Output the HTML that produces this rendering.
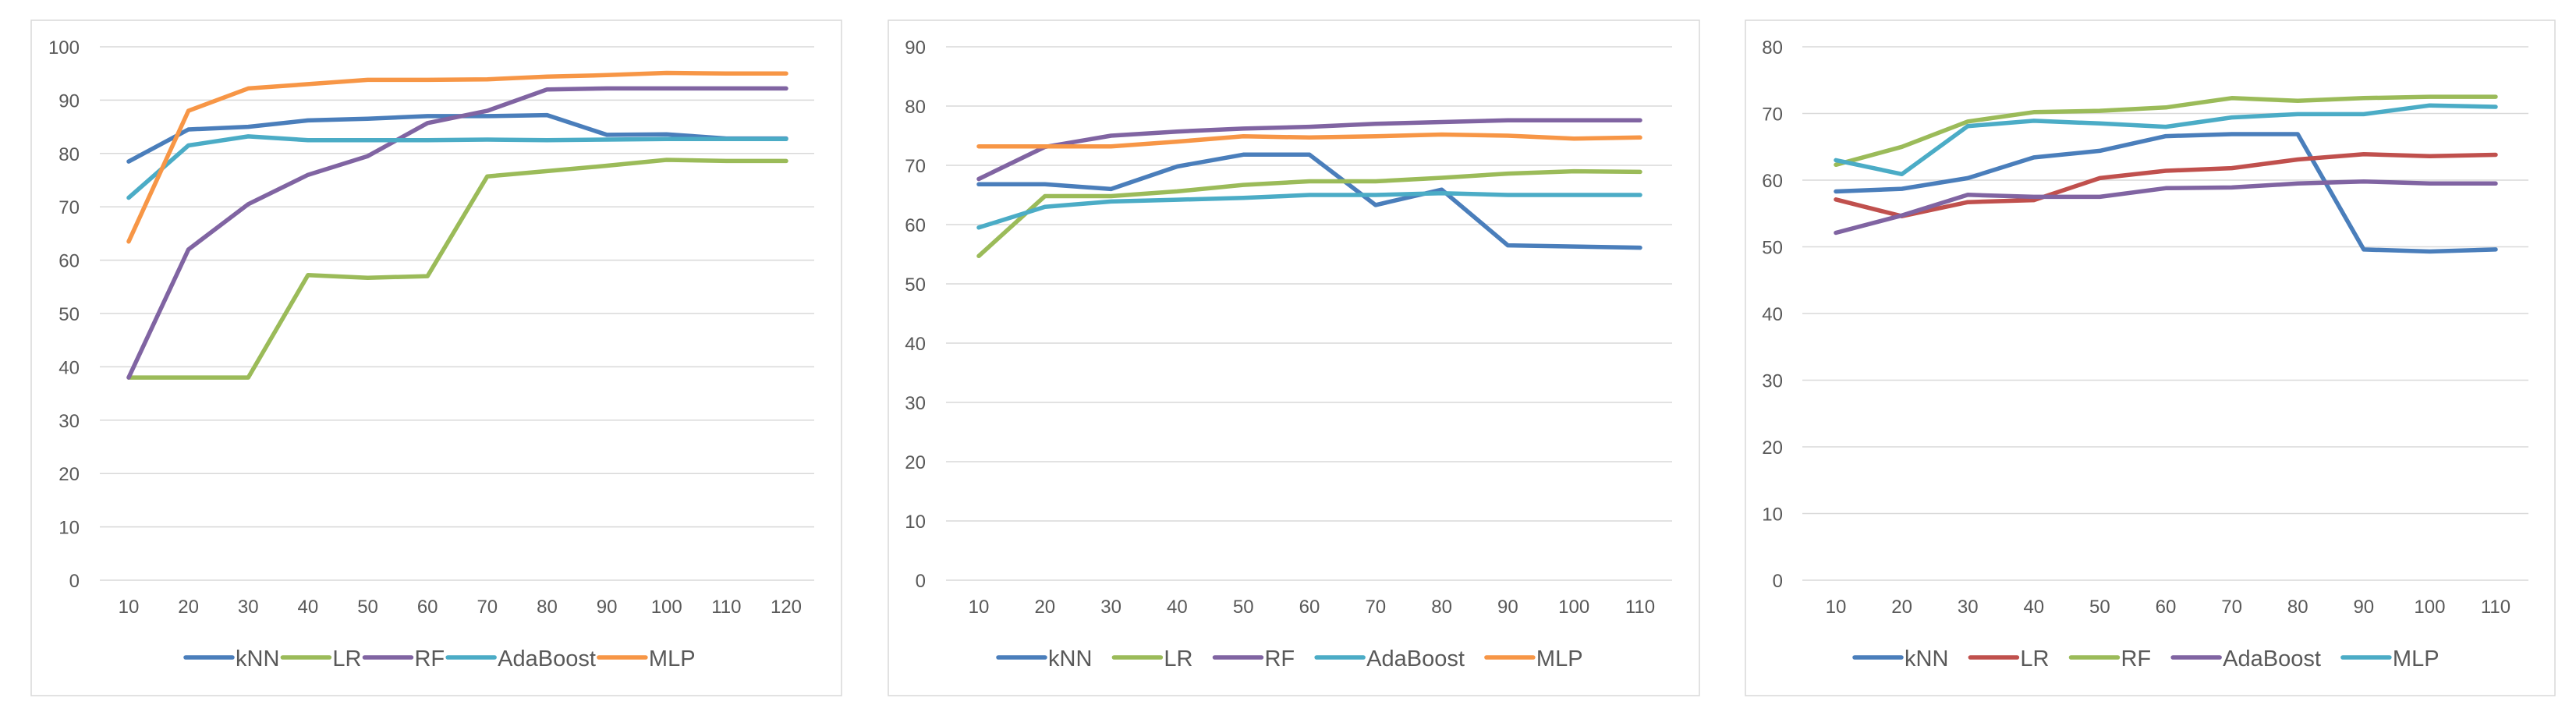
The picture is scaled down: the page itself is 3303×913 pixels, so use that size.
<!DOCTYPE html>
<html><head><meta charset="utf-8"><style>
html,body{margin:0;padding:0;background:#fff;}
svg{display:block;font-family:"Liberation Sans",sans-serif;}
</style></head><body>
<svg id="s" width="3303" height="913" viewBox="0 0 3303 913"></svg>
<script>
const xCats1 = [10,20,30,40,50,60,70,80,90,100,110,120];
const xCats2 = [10,20,30,40,50,60,70,80,90,100,110];
const xCats3 = [10,20,30,40,50,60,70,80,90,100,110];
const yTicks1 = [0,10,20,30,40,50,60,70,80,90,100];
const yTicks2 = [0,10,20,30,40,50,60,70,80,90];
const yTicks3 = [0,10,20,30,40,50,60,70,80];
const names1 = ["kNN","LR","RF","AdaBoost","MLP"];
const names3 = ["kNN","LR","RF","AdaBoost","MLP"];
const c1kNN = [78.5,84.5,85,86.2,86.5,87,87,87.2,83.5,83.6,82.8,82.8];
const c1LR = [38,38,38,57.2,56.7,57,75.7,76.7,77.7,78.8,78.6,78.6];
const c1RF = [38,62,70.5,76,79.5,85.7,88,92,92.2,92.2,92.2,92.2];
const c1Ada = [71.7,81.5,83.2,82.5,82.5,82.5,82.6,82.5,82.6,82.7,82.7,82.7];
const c1MLP = [63.5,88,92.2,93,93.8,93.8,93.9,94.4,94.7,95.1,95,95];
const c2kNN = [66.8,66.8,66,69.8,71.8,71.8,63.3,65.9,56.5,56.3,56.1];
const c2LR = [54.7,64.8,64.8,65.6,66.7,67.3,67.3,67.9,68.6,69,68.9];
const c2RF = [67.7,73.1,75,75.7,76.2,76.5,77,77.3,77.6,77.6,77.6];
const c2Ada = [59.5,63,63.9,64.2,64.5,65,65,65.3,65,65,65];
const c2MLP = [73.2,73.2,73.2,74,74.9,74.7,74.9,75.2,75,74.5,74.7];
const c3kNN = [58.3,58.7,60.3,63.4,64.4,66.6,66.9,66.9,49.6,49.3,49.6];
const c3LR = [57.1,54.6,56.7,57,60.3,61.4,61.8,63.1,63.9,63.6,63.8];
const c3RF = [62.3,65,68.8,70.2,70.4,70.9,72.3,71.9,72.3,72.5,72.5];
const c3Ada = [52.1,54.7,57.8,57.5,57.5,58.8,58.9,59.5,59.8,59.5,59.5];
const c3MLP = [63,60.9,68.1,68.9,68.5,68,69.4,69.9,69.9,71.2,71];

const NS="http://www.w3.org/2000/svg";
const svg=document.getElementById('s');
function mk(t,a,p){const e=document.createElementNS(NS,t);for(const k in a)e.setAttribute(k,a[k]);(p||svg).appendChild(e);return e;}
const B="#4A7EBB",G="#9BBB59",P="#8064A2",C="#4BACC6",O="#F79646",R="#C0504D";

function chart(cfg){
  const g=mk('g',{});
  
  
  const fr=mk('rect',{x:cfg.fx,y:26,width:cfg.fw,height:866,fill:'#fff',stroke:'#d9d9d9','stroke-width':1.5},g);
  
  
  const yTop=60,yBot=744,ymax=cfg.yt[cfg.yt.length-1];
  const ys=v=>yBot-(v/ymax)*(yBot-yTop);
  const n=cfg.cats.length;
  const xs=i=>cfg.x0+(cfg.x1-cfg.x0)*i/(n-1);
  cfg.yt.forEach(t=>{
    const l=mk('line',{x1:cfg.gx0,x2:cfg.gx1,y1:ys(t),y2:ys(t),stroke:'#d9d9d9','stroke-width':1.5},g);
    
    
    const tx=mk('text',{x:cfg.lx,y:ys(t)+9,'text-anchor':'end','font-size':24,fill:'#595959'},g);
    tx.textContent=t;
    
    
  });
  cfg.cats.forEach((c,i)=>{
    const tx=mk('text',{x:xs(i),y:786,'text-anchor':'middle','font-size':24,fill:'#595959'},g);
    tx.textContent=c;
    
    
  });
  cfg.series.forEach(s=>{
    const pts=s.d.map((v,i)=>xs(i).toFixed(1)+','+ys(v).toFixed(1)).join(' ');
    const pl=mk('polyline',{points:pts,fill:'none',stroke:s.c,'stroke-width':5.5,'stroke-linejoin':'round','stroke-linecap':'round'},g);
    
    
  });
  let x=cfg.legX;
  cfg.series.forEach(s=>{
    const lg=mk('g',{},g);
    
    
    mk('line',{x1:x,x2:x+60,y1:843,y2:843,stroke:s.c,'stroke-width':5.5,'stroke-linecap':'round'},lg);
    const tx=mk('text',{x:x+64,y:854,'font-size':29,fill:'#595959'},lg);
    tx.textContent=s.n;
    const w=tx.getComputedTextLength();
    x+=64+w+cfg.legGap;
  });
}
chart({name:'chart-1',fx:40,fw:1039,gx0:128,gx1:1044,x0:165,x1:1008,lx:102,yt:yTicks1,cats:xCats1,legX:238,legGap:4,
  series:[{n:names1[0],c:B,d:c1kNN},{n:names1[1],c:G,d:c1LR},{n:names1[2],c:P,d:c1RF},{n:names1[3],c:C,d:c1Ada},{n:names1[4],c:O,d:c1MLP}]});
chart({name:'chart-2',fx:1139,fw:1040,gx0:1213,gx1:2144,x0:1255,x1:2103,lx:1187,yt:yTicks2,cats:xCats2,legX:1280,legGap:28,
  series:[{n:names1[0],c:B,d:c2kNN},{n:names1[1],c:G,d:c2LR},{n:names1[2],c:P,d:c2RF},{n:names1[3],c:C,d:c2Ada},{n:names1[4],c:O,d:c2MLP}]});
chart({name:'chart-3',fx:2238,fw:1038,gx0:2311,gx1:3242,x0:2354,x1:3200,lx:2286,yt:yTicks3,cats:xCats3,legX:2378,legGap:28,
  series:[{n:names3[0],c:B,d:c3kNN},{n:names3[1],c:R,d:c3LR},{n:names3[2],c:G,d:c3RF},{n:names3[3],c:P,d:c3Ada},{n:names3[4],c:C,d:c3MLP}]});
</script>
</body></html>
